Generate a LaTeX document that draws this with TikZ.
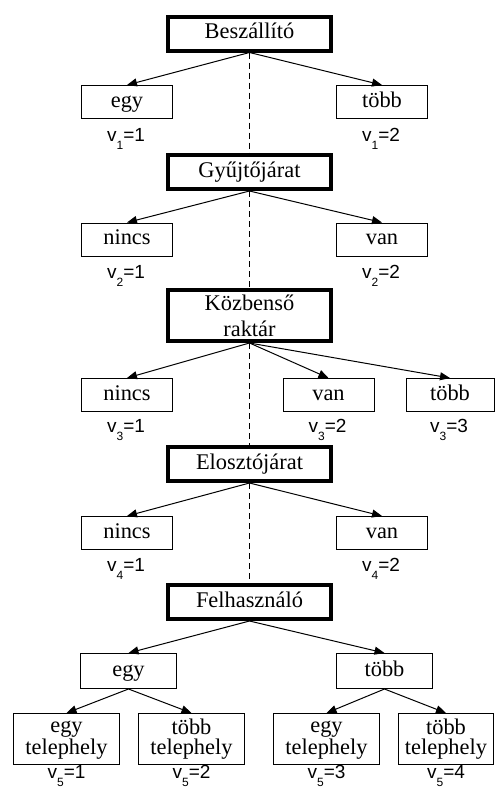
\documentclass[tikz,border=0pt]{standalone}
\usepackage{fontspec}
\setmainfont{Liberation Serif}
\newfontfamily\lblfont{Liberation Sans}
\usepackage{tikz}
\usetikzlibrary{arrows.meta}
\newcommand{\vsub}[2]{v\raisebox{-0.8ex}{\fontsize{6pt}{7pt}\selectfont #1}=#2}
\tikzset{
  font={\fontsize{11.2pt}{13pt}\selectfont},
  bigbox/.style={draw, line width=2pt, fill=white, minimum width=81.5pt, minimum height=17pt, inner sep=1pt, text height=7.6pt, text depth=2.4pt},
  twoline/.style={align=center, text height=, text depth=},
  tight/.style={font={\fontsize{11.2pt}{10pt}\selectfont}},
  smallbox/.style={draw, line width=0.5pt, minimum width=45.5pt, minimum height=16.5pt, inner sep=1pt, text height=7.6pt, text depth=2.4pt},
  lbl/.style={font={\lblfont\fontsize{9.5pt}{11pt}\selectfont}, inner sep=0pt},
  arr/.style={-{Triangle[length=5pt,width=4pt]}, line width=0.5pt},
  mid/.style={line width=0.5pt, dash pattern=on 3pt off 2pt}}

\begin{document}
\begin{tikzpicture}[x=0.5pt, y=-0.5pt]
%% page size, in pixels of the original
\useasboundingbox (0,0) rectangle (496,789);
%% the five main questions
    \node[bigbox] (besz) at (249.5,33.5) {Beszállító};
    \node[bigbox] (gyujto) at (249.5,172) {Gyűjtőjárat};
    \node[bigbox, twoline, minimum height=25.5pt] (kozb) at (249.5,315.5) {Közbenső\\raktár};
    \node[bigbox] (eloszto) at (249.5,464) {Elosztójárat};
    \node[bigbox] (felh) at (249.5,602) {Felhasználó};
%% the dashed middle line
    \draw[mid] (besz.south) -- (gyujto.north);
    \draw[mid] (gyujto.south) -- (kozb.north);
    \draw[mid] (kozb.south) -- (eloszto.north);
    \draw[mid] (eloszto.south) -- (felh.north);
%% answers and their values
    \node[smallbox] (egyA) at (127,102) {egy};
    \node[smallbox] (tobbA) at (382,102) {több};
    \node[lbl] (vA1) at (126,139) {\vsub{1}{1}};
    \node[lbl] (vA2) at (381,139) {\vsub{1}{2}};
    \node[smallbox] (nincsB) at (127,239.5) {nincs};
    \node[smallbox] (vanB) at (382,239.5) {van};
    \node[lbl] (vB1) at (126,276) {\vsub{2}{1}};
    \node[lbl] (vB2) at (381,276) {\vsub{2}{2}};
    \node[smallbox] (nincsC) at (127,395) {nincs};
    \node[smallbox] (vanC) at (328.5,395) {van};
    \node[smallbox, minimum width=44pt] (tobbC) at (450,395) {több};
    \node[lbl] (vC1) at (126,430) {\vsub{3}{1}};
    \node[lbl] (vC2) at (327.5,430) {\vsub{3}{2}};
    \node[lbl] (vC3) at (449,430) {\vsub{3}{3}};
    \node[smallbox] (nincsD) at (127,533) {nincs};
    \node[smallbox] (vanD) at (382,533) {van};
    \node[lbl] (vD1) at (126,569) {\vsub{4}{1}};
    \node[lbl] (vD2) at (381,569) {\vsub{4}{2}};
    \node[smallbox, minimum width=48pt, minimum height=17.5pt] (egyE) at (128.5,671) {egy};
    \node[smallbox, minimum width=48pt, minimum height=17.5pt] (tobbE) at (384.5,671) {több};
%% the last row has two lines in every box
    \node[smallbox, twoline, tight, minimum width=53pt, minimum height=25.5pt] (egyF1) at (66.5,739) {egy\vphantom{ö}\\telephely};
    \node[smallbox, twoline, tight, minimum width=53pt, minimum height=25.5pt] (tobbF1) at (191.5,739) {több\\telephely};
    \node[smallbox, twoline, tight, minimum width=53pt, minimum height=25.5pt] (egyF2) at (326.5,739) {egy\vphantom{ö}\\telephely};
    \node[smallbox, twoline, tight, minimum width=47.5pt, minimum height=25.5pt] (tobbF2) at (446,739) {több\\telephely};
    \node[lbl] (vF1) at (66.5,776) {\vsub{5}{1}};
    \node[lbl] (vF2) at (191.5,776) {\vsub{5}{2}};
    \node[lbl] (vF3) at (326.5,776) {\vsub{5}{3}};
    \node[lbl] (vF4) at (446,776) {\vsub{5}{4}};
%% arrows
    \draw[arr] (besz.south) -- (egyA.north);
    \draw[arr] (besz.south) -- (tobbA.north);
    \draw[arr] (gyujto.south) -- (nincsB.north);
    \draw[arr] (gyujto.south) -- (vanB.north);
    \draw[arr] (kozb.south) -- (nincsC.north);
    \draw[arr] (kozb.south) -- (vanC.north);
    \draw[arr] (kozb.south) -- (tobbC.north);
    \draw[arr] (eloszto.south) -- (nincsD.north);
    \draw[arr] (eloszto.south) -- (vanD.north);
    \draw[arr] (felh.south) -- (egyE.north);
    \draw[arr] (felh.south) -- (tobbE.north);
    \draw[arr] (egyE.south) -- (egyF1.north);
    \draw[arr] (egyE.south) -- (tobbF1.north);
    \draw[arr] (tobbE.south) -- (egyF2.north);
    \draw[arr] (tobbE.south) -- (tobbF2.north);
\end{tikzpicture}
\end{document}
